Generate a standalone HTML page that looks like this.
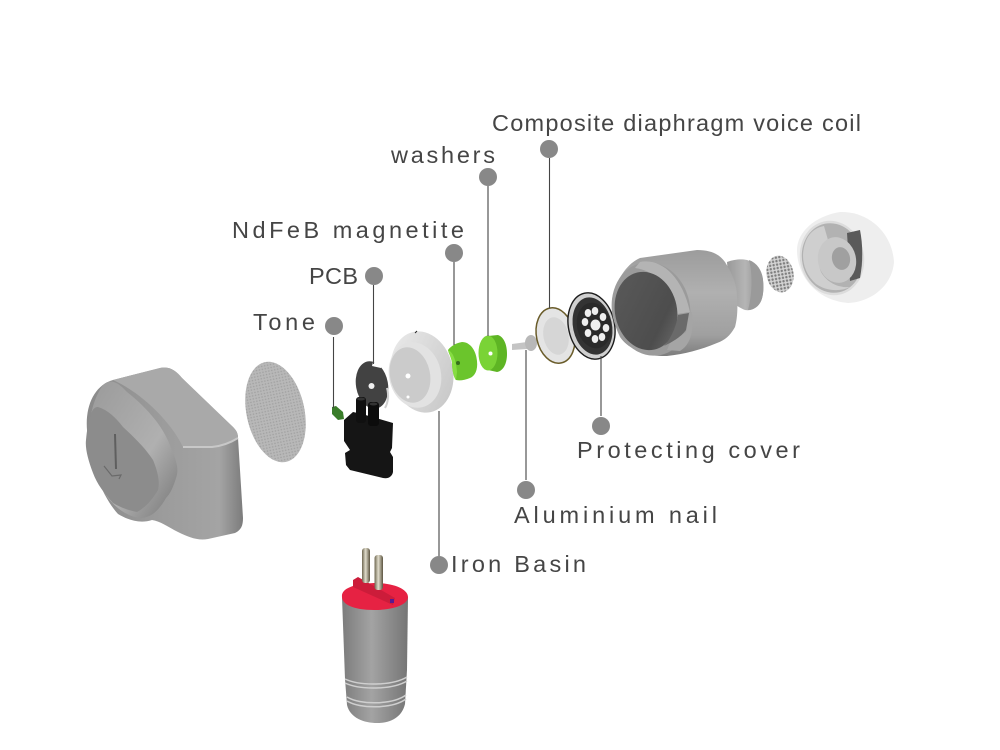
<!DOCTYPE html>
<html><head><meta charset="utf-8"><style>html,body{margin:0;padding:0;background:#fff}svg{display:block}text{font-family:"Liberation Sans",sans-serif;font-size:23.5px;fill:#454545}</style></head><body>
<svg width="1000" height="750" viewBox="0 0 1000 750" xmlns="http://www.w3.org/2000/svg">
<defs>
<linearGradient id="shellBody" x1="0" x2="1" y1="0" y2="0"><stop offset="0" stop-color="#8a8a8a"/><stop offset=".5" stop-color="#9c9c9c"/><stop offset=".85" stop-color="#a4a4a4"/><stop offset="1" stop-color="#7c7c7c"/></linearGradient>
<linearGradient id="rim" x1="0" x2="1" y1="0" y2="1"><stop offset="0" stop-color="#9a9a9a"/><stop offset=".6" stop-color="#b0b0b0"/><stop offset="1" stop-color="#777"/></linearGradient>
<linearGradient id="cyl" x1="0" x2="1" y1="0" y2="0"><stop offset="0" stop-color="#7c7c7c"/><stop offset=".45" stop-color="#a3a3a3"/><stop offset="1" stop-color="#757575"/></linearGradient>
<linearGradient id="tube" x1="0" x2="0" y1="0" y2="1"><stop offset="0" stop-color="#9c9c9c"/><stop offset=".4" stop-color="#b0b0b0"/><stop offset=".8" stop-color="#a0a0a0"/><stop offset="1" stop-color="#7d7d7d"/></linearGradient>
<linearGradient id="neck" x1="0" x2="1" y1="0" y2="0"><stop offset="0" stop-color="#999"/><stop offset=".5" stop-color="#b5b5b5"/><stop offset="1" stop-color="#888"/></linearGradient>
<linearGradient id="hole" x1="0" x2="1" y1="0" y2="1"><stop offset="0" stop-color="#5a5a5a"/><stop offset=".7" stop-color="#4d4d4d"/><stop offset="1" stop-color="#6e6e6e"/></linearGradient>
<linearGradient id="pin" x1="0" x2="1" y1="0" y2="0"><stop offset="0" stop-color="#6d6650"/><stop offset=".45" stop-color="#e0dccb"/><stop offset="1" stop-color="#5c5440"/></linearGradient>
<linearGradient id="basin" x1="0" x2="1" y1="0" y2="1"><stop offset="0" stop-color="#ececec"/><stop offset="1" stop-color="#c4c4c4"/></linearGradient>
<pattern id="mesh" width="3" height="3" patternUnits="userSpaceOnUse"><rect width="3" height="3" fill="#b8b8b8"/><circle cx="1.5" cy="1.5" r=".8" fill="#a0a0a0"/></pattern>
<pattern id="mesh2" width="3.500" height="3.500" patternUnits="userSpaceOnUse"><rect width="3.500" height="3.500" fill="#d4d4d4"/><circle cx="1.750" cy="1.750" r="1.200" fill="#7d7d7d"/></pattern>
</defs>

<!-- left shell -->
<path d="M87 430C85 405 95 385 113 380L160 368C170 366 176 371 182 378L233 427C237 431 238 434 238 438L243 518C243 526 241 530 235 533L208 539C198 541 188 537 178 532C168 527 160 521 152 520C140 524 128 520 118 514C105 500 88 465 87 430Z" fill="url(#shellBody)"/>
<path d="M113 380L160 368C170 366 176 371 182 378L233 427C237 431 238 434 238 438C230 443 222 446 212 447L183 447C170 420 140 392 113 380Z" fill="#a9a9a9"/>
<path d="M183 447C195 447 205 447 212 447C222 446 230 443 238 438" stroke="#c8c8c8" stroke-width="2" fill="none"/>
<path d="M103 385C110 378 118 382 127 392C150 410 165 430 171 448C177 462 179 470 176 478C173 488 170 494 166 498C158 512 150 518 140 518C125 516 110 505 100 485C85 455 85 410 103 385Z" fill="url(#rim)"/>
<path d="M90 417C92 410 94 407 98 407C108 410 116 418 123 427C135 438 146 449 153 460C158 472 160 482 158 490C152 500 146 507 137 512C127 510 120 507 113 503C104 493 97 484 93 473C88 460 85 448 86 440C87 430 88 423 90 417Z" fill="#8c8c8c"/>
<path d="M115 434L116 469" stroke="#5f5f5f" stroke-width="2"/>
<path d="M104 466L112 476L121 475L119 479" stroke="#6a6a6a" stroke-width="1.200" fill="none"/>

<!-- big mesh -->
<ellipse cx="275.500" cy="412" rx="29" ry="51" transform="rotate(-12 275.500 412)" fill="url(#mesh)"/>

<!-- PCB disc -->
<ellipse cx="372" cy="385" rx="16" ry="24" transform="rotate(-10 372 385)" fill="#424242"/>
<path d="M373 362L383 364L381 368L372 366Z" fill="#fff"/>
<circle cx="371.500" cy="386" r="3" fill="#f0f0f0"/>
<path d="M387 388C389 395 388 403 385 408" stroke="#cfcfcf" stroke-width="2" fill="none"/>
<!-- tone -->
<path d="M332 407L336 406L343 412L344 419L338 420L332 414Z" fill="#3a7d2a"/>
<!-- black block -->
<path d="M344 420L353 412L362 414L393 423L392 448L390 452L393 457L393 472C392 477 388 479 383 478L350 470L346 465L345 453L350 450L344 441Z" fill="#151515"/>
<rect x="356" y="397" width="10" height="26" fill="#101010" rx="3"/>
<rect x="368" y="402" width="11" height="24" fill="#0c0c0c" rx="3"/>
<ellipse cx="361" cy="399" rx="4" ry="1.500" fill="#333"/><ellipse cx="373.500" cy="404" rx="4" ry="1.500" fill="#333"/>

<!-- iron basin -->
<ellipse cx="422" cy="372" rx="31" ry="41" transform="rotate(-12 422 372)" fill="url(#basin)"/>
<ellipse cx="415" cy="375" rx="26" ry="33" transform="rotate(-12 415 375)" fill="#e2e2e2"/>
<ellipse cx="410" cy="375" rx="20" ry="28" transform="rotate(-12 410 375)" fill="#cbcbcb"/>
<circle cx="408" cy="376" r="2.500" fill="#fff"/><circle cx="408" cy="397" r="1.500" fill="#fff"/>
<path d="M415 333L417 331" stroke="#222"/>

<!-- green washers -->
<path d="M448 350C451 346 456 343 462 342C470 342 476 350 477 361C478 370 475 376 470 378C465 380 460 381 456 380C454 378 452 370 452 362C451 357 449 354 448 350Z" fill="#6bc52c"/>
<path d="M448 350C453 352 456 360 457 372L456 380C454 378 452 370 452 362C451 357 449 354 448 350Z" fill="#86dd42"/>
<circle cx="458" cy="363" r="2" fill="#37701c"/>
<path d="M488 336L498 335C504 337 507 345 507 354C507 364 503 371 497 372L488 370Z" fill="#5eb524"/>
<ellipse cx="488" cy="353" rx="9.500" ry="17.500" fill="#7ad336"/>
<circle cx="490.500" cy="353.500" r="2" fill="#fff"/>

<!-- nail -->
<path d="M512 344L527 342V349L512 350Z" fill="#c4c4c4"/>
<ellipse cx="531" cy="343" rx="6" ry="8" fill="#b8b8b8"/>

<!-- diaphragm -->
<ellipse cx="555.500" cy="335.500" rx="19" ry="28" transform="rotate(-12 555.500 335.500)" fill="#e4e4e4" stroke="#6a5c2a" stroke-width="1.500"/>
<ellipse cx="556" cy="336" rx="12.500" ry="19" transform="rotate(-12 556 336)" fill="#d6d6d6"/>

<!-- protective cover -->
<ellipse cx="591.500" cy="326" rx="23" ry="33.500" transform="rotate(-12 591.500 326)" fill="#d0d0d0" stroke="#1c1c1c" stroke-width="1.400"/>
<ellipse cx="592.500" cy="326" rx="19.500" ry="29" transform="rotate(-12 592.500 326)" fill="#333"/>
<ellipse cx="594" cy="325.500" rx="17" ry="23" transform="rotate(-12 594 325.500)" fill="#2a2a2a"/>
<g fill="#efefef"><ellipse cx="595.500" cy="325" rx="5" ry="5.500"/><ellipse cx="588" cy="313" rx="3.300" ry="4"/><ellipse cx="595" cy="311" rx="3.300" ry="4"/><ellipse cx="603" cy="317" rx="3.300" ry="4"/><ellipse cx="606" cy="328" rx="3.300" ry="4"/><ellipse cx="602" cy="337" rx="3.300" ry="4"/><ellipse cx="595" cy="339" rx="3.300" ry="4"/><ellipse cx="588" cy="333" rx="3.300" ry="4"/><ellipse cx="585" cy="322" rx="3.300" ry="4"/></g>

<!-- nozzle body -->
<path d="M727 262C735 259 742 259 747 260C756 263 762 270 763 280C764 290 763 298 760 303C756 309 750 311 745 310C740 308 735 305 730 300Z" fill="url(#neck)"/>
<path d="M749 260C757 263 762 270 763 280C764 290 763 298 760 303C757 308 752 310 748 310C752 295 753 275 749 260Z" fill="#9a9a9a"/>
<path d="M640 258L697 250C712 250 720 255 725 262C733 275 737 285 737 297C738 310 737 320 735 327C730 336 725 340 717 343C700 350 685 354 667 356C655 356 648 355 643 353C632 349 625 344 620 337C614 325 612 312 612 300C615 282 626 264 640 258Z" fill="url(#tube)"/>
<ellipse cx="651" cy="309" rx="39" ry="47" transform="rotate(-12 651 309)" fill="#9b9b9b"/>
<path d="M640 262C660 258 682 275 690 312L677 314C672 290 655 270 635 268Z" fill="#b4b4b4"/>
<ellipse cx="646" cy="311" rx="31" ry="39.500" transform="rotate(-12 646 311)" fill="url(#hole)"/>
<path d="M676 315L689 313L686 332L670 343L667 350L680 351C695 342 693 320 692 312Z" fill="#a5a5a5"/>
<path d="M664 346C672 342 680 338 686 330L689 313L678 315C676 328 670 340 664 346Z" fill="#6a6a6a"/>

<!-- small mesh -->
<ellipse cx="780" cy="274" rx="13.500" ry="18.500" transform="rotate(-10 780 274)" fill="url(#mesh2)"/>

<!-- ear tip -->
<path d="M797 250C797 232 815 216 840 212C868 211 892 232 894 262C892 287 870 302 848 303C815 300 797 275 797 250Z" fill="#eeeeee"/>
<ellipse cx="832" cy="258" rx="32" ry="37.500" transform="rotate(-12 832 258)" fill="#dcdcdc"/>
<ellipse cx="832" cy="258" rx="30" ry="35" transform="rotate(-12 832 258)" fill="#b2b2b2"/>
<path d="M803 255C804 238 812 228 824 226L828 240C820 248 817 262 821 272C828 284 840 288 850 287C840 292 826 291 816 284C807 276 803 266 803 255Z" fill="#cfcfcf"/>
<path d="M847 233L860 230C863 245 863 262 860 278L850 281Z" fill="#5a5a5a"/>
<ellipse cx="837" cy="260" rx="19" ry="23" transform="rotate(-12 837 260)" fill="#c8c8c8"/>
<ellipse cx="841" cy="258.500" rx="9" ry="11.500" transform="rotate(-12 841 258.500)" fill="#a0a0a0"/>

<!-- plug -->
<path d="M342 597L345 679L347 705C350 718 364 723 377 723C391 723 402 717 405 704L407 670L408 597Z" fill="url(#cyl)"/>
<path d="M345 679C360 686 392 686 407 677M345 683C360 690 392 690 407 681M347 697C360 705 392 705 406 695M347 701C360 709 392 709 406 699" stroke="#cfcfcf" stroke-width="1.500" fill="none"/>
<path d="M342 597C341 589 352 584 374 583C396 583 408 590 408 597C408 604 395 610 374 610C353 610 342 604 342 597Z" fill="#e62243"/>
<path d="M353 580L358 577L395 598L393 605L353 587Z" fill="#cc1c3a"/>
<rect x="390" y="599" width="4" height="4" fill="#5a1a90"/>
<rect x="362" y="548" width="8" height="35" rx="3" fill="url(#pin)"/>
<rect x="374.500" y="555" width="8.500" height="35" rx="3" fill="url(#pin)"/>

<!-- connectors -->
<g stroke="#444" stroke-width="1.100"><path d="M549.500 158V308M488 186V336M454 262V345M373.500 285V364M333.500 337V408M601 356V416M526 350V480M439 411V556"/></g>
<g fill="#888"><circle cx="549" cy="149" r="9"/><circle cx="488" cy="177" r="9"/><circle cx="454" cy="253" r="9"/><circle cx="374" cy="276" r="9"/><circle cx="334" cy="326" r="9"/><circle cx="601" cy="426" r="9"/><circle cx="526" cy="490" r="9"/><circle cx="439" cy="565" r="9"/></g>

<!-- labels -->
<text x="492" y="131" textLength="369" lengthAdjust="spacing">Composite diaphragm voice coil</text>
<text x="391" y="163" textLength="104" lengthAdjust="spacing">washers</text>
<text x="232" y="238" textLength="232" lengthAdjust="spacing">NdFeB magnetite</text>
<text x="309" y="284" textLength="49" lengthAdjust="spacing">PCB</text>
<text x="253" y="330" textLength="62" lengthAdjust="spacing">Tone</text>
<text x="577" y="458" textLength="223" lengthAdjust="spacing">Protecting cover</text>
<text x="514" y="523" textLength="203" lengthAdjust="spacing">Aluminium nail</text>
<text x="451" y="572" textLength="135" lengthAdjust="spacing">Iron Basin</text>
</svg>
</body></html>
